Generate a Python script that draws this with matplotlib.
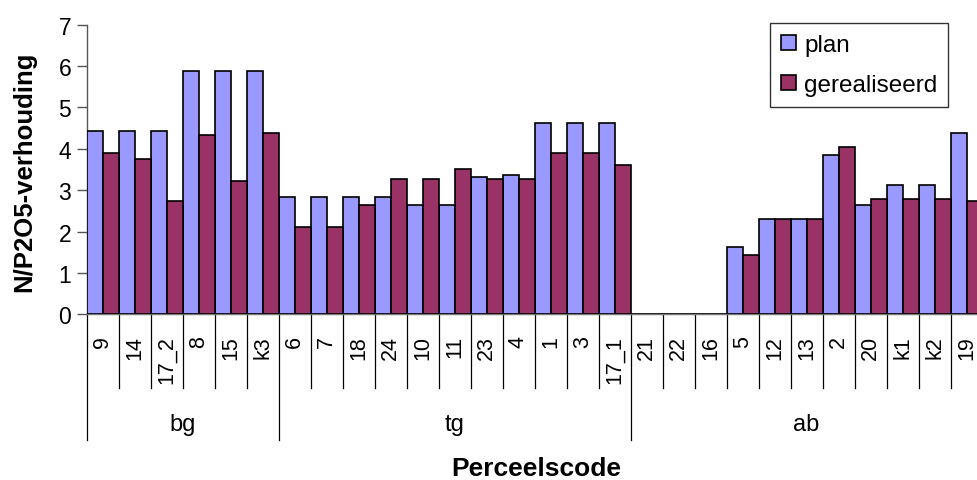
import matplotlib
matplotlib.use("Agg")
import matplotlib.pyplot as plt
import matplotlib.transforms as mtransforms
import numpy as np

plt.rcParams['font.family'] = ['Liberation Sans', 'DejaVu Sans']

groups = ["bg", "tg", "ab"]
group_codes = [
    ["9", "14", "17_2", "8", "15", "k3"],
    ["6", "7", "18", "24", "10", "11", "23", "4", "1", "3", "17_1"],
    ["21", "22", "16", "5", "12", "13", "2", "20", "k1", "k2", "19"],
]
plan = [4.43, 4.43, 4.43, 5.88, 5.88, 5.88,
        2.83, 2.83, 2.83, 2.83, 2.65, 2.65, 3.32, 3.37, 4.63, 4.63, 4.63,
        0, 0, 0, 1.63, 2.31, 2.31, 3.85, 2.65, 3.13, 3.13, 4.39]
gerealiseerd = [3.90, 3.76, 2.74, 4.34, 3.23, 4.38,
                2.12, 2.12, 2.65, 3.28, 3.28, 3.52, 3.28, 3.28, 3.90, 3.90, 3.61,
                0, 0, 0, 1.44, 2.31, 2.31, 4.05, 2.79, 2.79, 2.79, 2.74]
yticks = [0, 1, 2, 3, 4, 5, 6, 7]

codes = [c for g in group_codes for c in g]
n = len(codes)
x = np.arange(n)

W, H = 977, 481
fig = plt.figure(figsize=(W / 100, H / 100), dpi=100)
ax_left, ax_right = 86.5, 982.5
ax_top, ax_bot = 25.7, 315.3
ax = fig.add_axes([ax_left / W, 1 - ax_bot / H, (ax_right - ax_left) / W, (ax_bot - ax_top) / H])
ax_h_px = ax_bot - ax_top

ax.bar(x - 0.25, plan, width=0.5, color='#9999FF', edgecolor='black', linewidth=1.2, label='plan', zorder=3)
ax.bar(x + 0.25, gerealiseerd, width=0.5, color='#993366', edgecolor='black', linewidth=1.2, label='gerealiseerd', zorder=3)

ax.set_xlim(-0.5, n - 0.5)
ax.set_ylim(0, 7)
ax.set_yticks(yticks)
ax.set_yticklabels([str(t) for t in yticks], fontsize=16.5)
ax.tick_params(axis='y', length=7, width=1, color='#555555', pad=4)
ax.set_xticks([])
for s in ['top', 'right']:
    ax.spines[s].set_visible(False)
ax.spines['left'].set_color('#555555')
ax.spines['bottom'].set_color('#777777')
ax.spines['left'].set_linewidth(1)
ax.spines['bottom'].set_linewidth(1)

trans = mtransforms.blended_transform_factory(ax.transData, ax.transAxes)

# category labels
for i, c in enumerate(codes):
    ax.text(i, -21 / ax_h_px, c, transform=trans, rotation=90, ha='center', va='top', fontsize=15.5)

# separators
bounds = [0]
for g in group_codes:
    bounds.append(bounds[-1] + len(g))
for b in range(n + 1):
    depth = 126 if b in bounds else 74
    ax.plot([b - 0.5, b - 0.5], [0, -depth / ax_h_px], transform=trans, color='black',
            linewidth=0.9, clip_on=False)

# group labels
for gi, g in enumerate(groups):
    center = (bounds[gi] + bounds[gi + 1] - 1) / 2
    ax.text(center, -(425 - ax_bot) / ax_h_px, g, transform=trans, ha='center', va='center', fontsize=17)

fig.text(24 / W, 1 - 172 / H, 'N/P2O5-verhouding', rotation=90, ha='center', va='center',
         fontsize=18.5, fontweight='bold')
fig.text(536 / W, 1 - 469 / H, 'Perceelscode', ha='center', va='center',
         fontsize=19, fontweight='bold')

leg = ax.legend(loc='upper left', bbox_to_anchor=(770 / W, 1 - 24 / H), bbox_transform=fig.transFigure,
                fontsize=17.5, frameon=True, fancybox=False, edgecolor='black', borderaxespad=0,
                handlelength=0.6, handleheight=0.6, handletextpad=0.35, labelspacing=0.75,
                borderpad=0.45)
leg.get_frame().set_linewidth(1)

fig.savefig('out.png', dpi=100)
